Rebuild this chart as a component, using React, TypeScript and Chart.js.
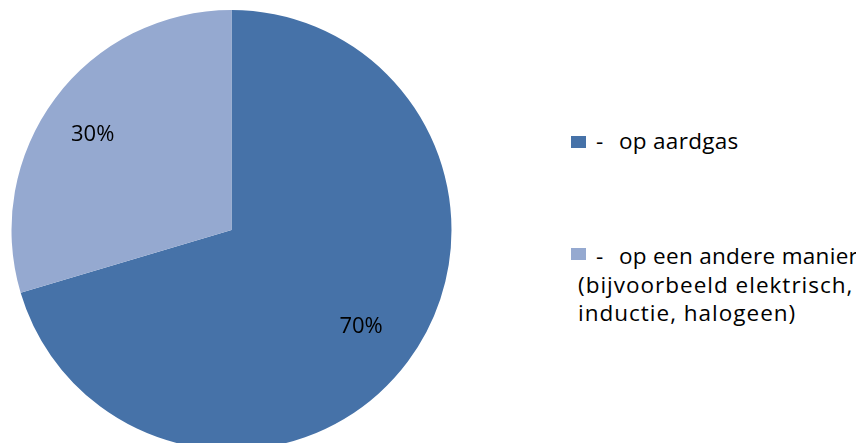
import React, { useEffect, useRef } from "react";
import { Chart, registerables } from "chart.js";

Chart.register(...registerables);

const categories = ["op aardgas", "op een andere manier (bijvoorbeeld elektrisch, inductie, halogeen)"];
const legendLines = [["op aardgas"], ["op een andere manier", "(bijvoorbeeld elektrisch,", "inductie, halogeen)"]];
const values = [70.4, 29.6];
const colors = ["#4672A8", "#95A9D0"];

const FONT = "'Open Sans', 'DejaVu Sans', sans-serif";

const labelPlugin = {
  id: "pctLabels",
  afterDatasetsDraw(chart: any) {
    const ctx = chart.ctx;
    const meta = chart.getDatasetMeta(0);
    const data = chart.data.datasets[0].data as number[];
    const total = data.reduce((a, b) => a + b, 0);
    ctx.save();
    ctx.font = `22px ${FONT}`;
    ctx.fillStyle = "#000000";
    ctx.textAlign = "center";
    ctx.textBaseline = "middle";
    meta.data.forEach((arc: any, i: number) => {
      const p = arc.getProps(["startAngle", "endAngle", "outerRadius", "x", "y"], true);
      const mid = (p.startAngle + p.endAngle) / 2;
      const share = data[i] / total;
      const r = p.outerRadius * (share > 0.5 ? 0.735 : 0.765);
      const a = share > 0.5 ? mid : mid - 0.04;
      const x = p.x + Math.cos(a) * r;
      const y = p.y + Math.sin(a) * r;
      ctx.fillText(Math.round(share * 100) + "%", x, y);
    });
    ctx.restore();
  },
};

export default function App() {
  const ref = useRef<HTMLCanvasElement>(null);
  useEffect(() => {
    if (!ref.current) return;
    const chart = new Chart(ref.current, {
      type: "pie",
      data: {
        labels: categories,
        datasets: [
          {
            data: values,
            backgroundColor: colors,
            borderWidth: 0,
          },
        ],
      },
      options: {
        animation: false,
        responsive: false,
        maintainAspectRatio: false,
        layout: { padding: { left: 3.5, right: 3.5, top: 2, bottom: 2 } },
        plugins: {
          legend: { display: false },
          tooltip: { enabled: false },
        },
      },
      plugins: [labelPlugin],
    });
    return () => chart.destroy();
  }, []);

  const lineH = 28.5;
  const textStyle: React.CSSProperties = {
    position: "absolute",
    fontFamily: FONT,
    fontSize: "22.5px",
    lineHeight: `${lineH}px`,
    color: "#000",
    whiteSpace: "nowrap",
  };
  const entryTops = [127 - 8, 242 - 8];
  const markerTops = [136 - 8, 248 - 8];

  return (
    <div style={{ position: "relative", width: 856, height: 435, overflow: "hidden" }}>
      <canvas ref={ref} width={447} height={444} style={{ position: "absolute", left: 0, top: 0 }} />
      {legendLines.map((lines, i) => (
        <React.Fragment key={i}>
          <div
            style={{
              position: "absolute",
              left: 571 - 8,
              top: markerTops[i],
              width: 15,
              height: 12,
              background: colors[i],
            }}
          />
          <div style={{ ...textStyle, left: 596 - 8, top: entryTops[i] }}>-</div>
          {lines.map((ln, j) => (
            <div
              key={j}
              style={{
                ...textStyle,
                letterSpacing: j === 0 ? "0.3px" : "1px",
                left: (j === 0 ? 619 : 578) - 8,
                top: entryTops[i] + j * lineH,
              }}
            >
              {ln}
            </div>
          ))}
        </React.Fragment>
      ))}
    </div>
  );
}
